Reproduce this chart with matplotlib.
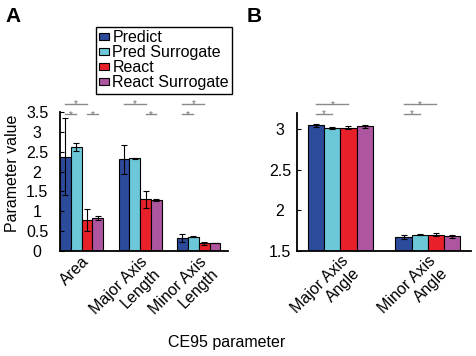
import numpy as np
import matplotlib
matplotlib.use('Agg')
import matplotlib.pyplot as plt
from matplotlib.ticker import FormatStrFormatter

plt.rcParams['font.family'] = ['Liberation Sans', 'DejaVu Sans']
plt.rcParams['font.size'] = 11.5

conditions = ['Predict', 'Pred Surrogate', 'React', 'React Surrogate']
colors = ['#2D4B9B', '#6CC8D8', '#E8202A', '#AD559F']

# panel A: size parameters (one row per condition, one column per parameter)
params_a = ['Area', 'Major Axis\nLength', 'Minor Axis\nLength']
means_a = [[2.37, 2.31, 0.32],
           [2.63, 2.33, 0.36],
           [0.78, 1.30, 0.19],
           [0.82, 1.28, 0.20]]
errs_a = [[0.97, 0.37, 0.10],
          [0.10, 0.02, 0.02],
          [0.27, 0.21, 0.03],
          [0.05, 0.02, 0.01]]

# panel B: angle parameters
params_b = ['Major Axis\nAngle', 'Minor Axis\nAngle']
means_b = [[3.05, 1.665],
           [3.02, 1.70],
           [3.02, 1.70],
           [3.04, 1.68]]
errs_b = [[0.02, 0.025],
          [0.01, 0.01],
          [0.02, 0.02],
          [0.02, 0.02]]

# significant pairs: (group, bar i, bar j, bracket level)
sig_a = [(0, 0, 2, 1), (0, 0, 1, 0), (0, 2, 3, 0),
         (1, 0, 2, 1), (1, 2, 3, 0),
         (2, 0, 2, 1), (2, 0, 1, 0)]
sig_b = [(0, 0, 2, 1), (0, 0, 1, 0),
         (1, 0, 2, 1), (1, 0, 1, 0)]

BAR_W = 0.185
W, H = 476, 356


def draw_panel(ax, params, means, errs, sig, sig_levels, ytick_pad):
    x = np.arange(1, len(params) + 1)
    for i in range(len(conditions)):
        ax.bar(x + (i - 1.5) * BAR_W, means[i], BAR_W, yerr=errs[i],
               color=colors[i], edgecolor='black', linewidth=0.8, label=conditions[i],
               error_kw=dict(elinewidth=0.8, capsize=2, capthick=0.8, ecolor='black'))

    for g, i, j, lev in sig:
        x0 = x[g] + (i - 1.5) * BAR_W
        x1 = x[g] + (j - 1.5) * BAR_W
        y = sig_levels[lev]
        ax.plot([x0, x1], [y, y], color='#8a8a8a', lw=1.0, clip_on=False)
        ax.annotate('*', xy=((x0 + x1) / 2, y), xytext=(0, -2.5), textcoords='offset points',
                    ha='center', va='baseline', fontsize=7, color='#707070',
                    annotation_clip=False)

    ax.set_xticks(x)
    ax.set_xticklabels(params, rotation=45, ha='right', va='top',
                       rotation_mode='anchor', multialignment='right')
    ax.tick_params(axis='x', length=0, pad=2)
    ax.tick_params(axis='y', direction='in', length=3, width=0.8, pad=ytick_pad)
    ax.yaxis.set_major_formatter(FormatStrFormatter('%g'))
    plt.setp(ax.get_yticklabels(), ha='center')

    for s in ['top', 'right']:
        ax.spines[s].set_visible(False)
    for s in ['left', 'bottom']:
        ax.spines[s].set_linewidth(1.3)


fig = plt.figure(figsize=(W / 100, H / 100), dpi=100)

ax_a = fig.add_axes([60 / W, 1 - 251 / H, 168 / W, 139 / H])
ax_a.set_xlim(0.63, 3.5)
ax_a.set_ylim(0, 3.5)
ax_a.set_yticks(np.arange(0, 3.51, 0.5))
draw_panel(ax_a, params_a, means_a, errs_a, sig_a, [3.44, 3.71], 16.5)

ax_b = fig.add_axes([296.7 / W, 1 - 250.7 / H, 174.3 / W, 137.4 / H])
ax_b.set_xlim(0.5, 2.495)
ax_b.set_ylim(1.5, 3.2)
ax_b.set_yticks(np.arange(1.5, 3.01, 0.5))
draw_panel(ax_b, params_b, means_b, errs_b, sig_b, [3.195, 3.31], 12)

handles, labels = ax_a.get_legend_handles_labels()
leg = fig.legend(handles, labels, loc='upper left',
                 bbox_to_anchor=(96 / W, 1 - 27.3 / H), bbox_transform=fig.transFigure,
                 frameon=True, fancybox=False, edgecolor='black', framealpha=1,
                 borderpad=0.2, labelspacing=0.0, handlelength=0.62, handleheight=0.33,
                 handletextpad=0.2, borderaxespad=0)
leg.get_frame().set_linewidth(1.0)

fig.text(12.5 / W, 1 - 173.5 / H, 'Parameter value', rotation=90, ha='center', va='center')
fig.text(226.5 / W, 1 - 343 / H, 'CE95 parameter', ha='center', va='center')
fig.text(5 / W, 1 - 21.7 / H, 'A', fontsize=15, fontweight='bold', ha='left', va='baseline')
fig.text(247 / W, 1 - 21.7 / H, 'B', fontsize=15, fontweight='bold', ha='left', va='baseline')

fig.savefig('out.png', dpi=100)
